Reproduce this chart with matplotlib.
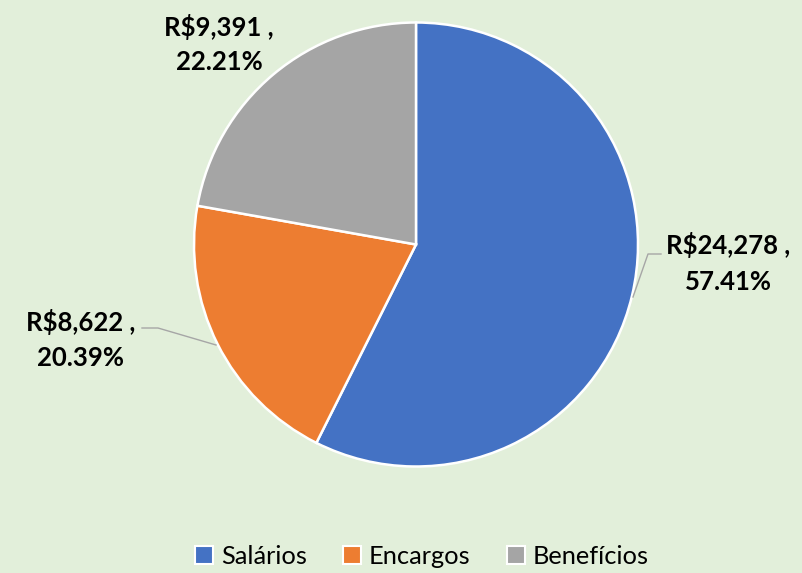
import matplotlib
matplotlib.use("Agg")
import matplotlib.pyplot as plt
from matplotlib.patches import Patch

categories = ["Salários", "Encargos", "Benefícios"]
values = [24278, 8622, 9391]
percents = ["57.41%", "20.39%", "22.21%"]
colors = ["#4472C4", "#ED7D31", "#A5A5A5"]
bg = "#E2EFDA"

W, H = 802, 573
fig = plt.figure(figsize=(W / 100, H / 100), dpi=100)
fig.patch.set_facecolor(bg)
ax = fig.add_axes([0, 0, 1, 1])
ax.set_facecolor(bg)

cx, cy, r = 416, H - 244.5, 222
ax.pie(values, colors=colors, startangle=90, counterclock=False,
       center=(cx, cy), radius=r, frame=True,
       wedgeprops=dict(edgecolor="white", linewidth=1.8))
ax.set_xlim(0, W)
ax.set_ylim(0, H)
ax.set_aspect("equal")
ax.axis("off")

font = "Lato"
label_pos = [(728, H - 263), (81, H - 339.5), (219, H - 44)]
for v, p, (x, y) in zip(values, percents, label_pos):
    ax.text(x, y, f"R${v:,} ,\n{p}", ha="center", va="center",
            fontsize=18.5, fontweight="bold", family=font,
            linespacing=1.55, color="black")

lc = "#A6A6A6"
ax.plot([633, 648, 661], [H - 297, H - 254, H - 254], color=lc, lw=1)
ax.plot([216, 158, 142], [H - 345, H - 328, H - 328], color=lc, lw=1)

handles = [Patch(facecolor=c, edgecolor="white", linewidth=1.5) for c in colors]
fig.legend(handles, categories, loc="center", bbox_to_anchor=(422 / W, 1 - 556 / H),
           ncol=3, frameon=False, prop=dict(family=font, size=18.3),
           handlelength=0.7, handleheight=0.7, handletextpad=0.3,
           columnspacing=1.45)

fig.savefig("out.png", dpi=100, facecolor=bg)
